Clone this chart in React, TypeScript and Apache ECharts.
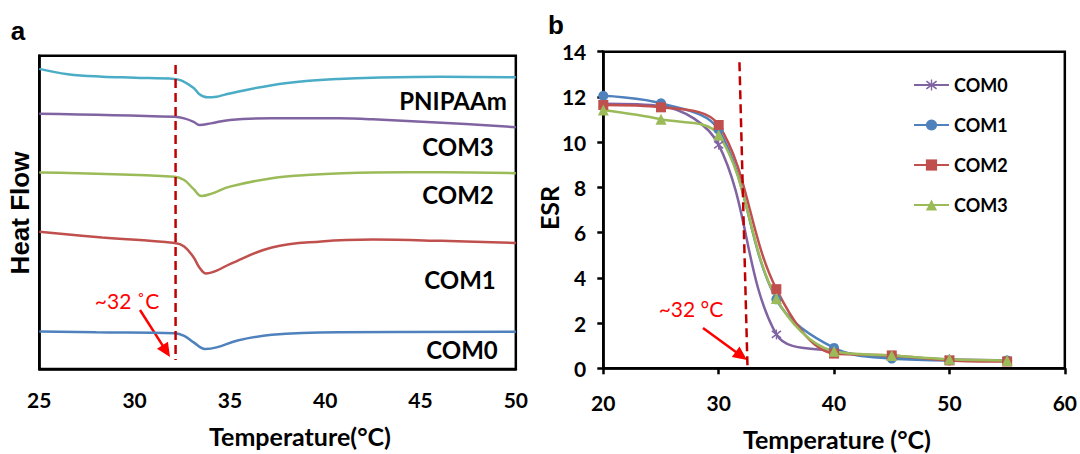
import React, { useEffect, useRef } from "react";
import * as echarts from "echarts";

// ---------- Panel a: DSC curves (Temperature °C, heat flow in offset a.u.) ----------
const dscPnipaam: number[][] = [
  [25, 95.8], [26.5, 94.1], [28.3, 93.3], [30, 93.0], [32.1, 92.6], [32.5, 92.0],
  [33.1, 89.7], [33.4, 87.7], [33.8, 86.7], [34.3, 86.9], [34.7, 87.5], [35.4, 88.5],
  [37.2, 90.6], [39, 91.9], [40.7, 92.6], [42.5, 93.0], [46.1, 93.3], [50, 93.1],
];
const dscCom3: number[][] = [
  [25, 81.5], [32.1, 80.5], [32.6, 80.0], [33.1, 78.9], [33.4, 77.9], [34, 78.4],
  [35, 79.5], [37.2, 80.0], [40.7, 80.0], [42.5, 79.7], [46.1, 78.6], [50, 77.2],
];
const dscCom2: number[][] = [
  [25, 62.7], [32.1, 61.4], [32.6, 60.3], [33.1, 57.4], [33.5, 55.2], [34, 55.9],
  [35, 58.2], [37.2, 60.9], [39, 61.9], [42.5, 62.7], [46.1, 62.8], [50, 62.5],
];
const dscCom1: number[][] = [
  [25, 43.8], [28.3, 42.0], [32.1, 40.2], [32.6, 39.1], [33.1, 35.6], [33.4, 32.4],
  [33.75, 30.5], [34.3, 31.4], [35, 33.5], [37.2, 38.8], [39.8, 40.7], [42.5, 41.3],
  [46.1, 40.9], [50, 40.2],
];
const dscCom0: number[][] = [
  [25, 12.0], [28, 11.7], [32.1, 11.4], [32.6, 10.6], [33.1, 8.5], [33.7, 6.4],
  [34.3, 6.9], [35.4, 9.1], [37.2, 10.9], [40.7, 11.7], [50, 11.9],
];
const dscNames = ["PNIPAAm", "COM3", "COM2", "COM1", "COM0"];
const dscColors = ["#4BACC6", "#8064A2", "#9BBB59", "#C0504D", "#4F81BD"];
const dscLcst: number[][] = [[32.15, 97.0], [32.15, 2.9]];

// ---------- Panel b: ESR vs temperature ----------
const esrTemps = [20, 25, 30, 35, 40, 45, 50, 55];
const esrCom0 = [11.7, 11.6, 9.88, 1.5, 0.75, 0.5, 0.4, 0.35];
const esrCom1 = [12.05, 11.72, 10.55, 3.05, 0.9, 0.43, 0.35, 0.35];
const esrCom2 = [11.64, 11.54, 10.76, 3.5, 0.65, 0.57, 0.35, 0.3];
const esrCom3 = [11.42, 11.01, 10.32, 3.09, 0.75, 0.57, 0.4, 0.35];
const esrNames = ["COM0", "COM1", "COM2", "COM3"];
const esrColors = ["#8064A2", "#4F81BD", "#C0504D", "#9BBB59"];
const esrLcst: number[][] = [[31.8, 13.53], [32.5, 0]];

const FONT = "Lato, 'Noto Sans', sans-serif";
const ARIAL = "'Liberation Sans', Arial, sans-serif";
const OX = 531; // left offset of panel b container

const asterisk =
  "path://M4.4,0H5.6V10H4.4Z M0,2.2L0.9,0.9L10,7.8L9.1,9.1Z M9.1,0.9L10,2.2L0.9,9.1L0,7.8Z";

function arrow(x1: number, y1: number, x2: number, y2: number) {
  const dx = x2 - x1, dy = y2 - y1;
  const len = Math.sqrt(dx * dx + dy * dy);
  const ux = dx / len, uy = dy / len;
  const hl = 14, hw = 6.5;
  const bx = x2 - ux * hl, by = y2 - uy * hl;
  return [
    { type: "line", shape: { x1, y1, x2: bx + ux * 2, y2: by + uy * 2 }, style: { stroke: "#FF0000", lineWidth: 2.5 } },
    {
      type: "polygon",
      shape: { points: [[x2, y2], [bx - uy * hw, by + ux * hw], [bx + uy * hw, by - ux * hw]] },
      style: { fill: "#FF0000" },
    },
  ];
}

function txt(x: number, y: number, text: string, size: number, opts: any = {}) {
  return {
    type: "text",
    x, y,
    rotation: opts.rotation || 0,
    style: {
      text,
      fontSize: size,
      fontFamily: opts.family || FONT,
      fontWeight: opts.weight || "bold",
      fill: opts.color || "#000",
      align: opts.align || "center",
      verticalAlign: "middle",
    },
  };
}

export default function App() {
  const refA = useRef<HTMLDivElement>(null);
  const refB = useRef<HTMLDivElement>(null);

  useEffect(() => {
    const a = echarts.init(refA.current!, null, { renderer: "svg" });
    const b = echarts.init(refB.current!, null, { renderer: "svg" });

    const dscData = [dscPnipaam, dscCom3, dscCom2, dscCom1, dscCom0];
    a.setOption({
      animation: false,
      backgroundColor: "#fff",
      grid: { left: 39.3, top: 55.7, width: 483.4, height: 313.3, show: true, borderColor: "#000", borderWidth: 2.5, backgroundColor: "transparent" },
      xAxis: {
        type: "value", min: 25, max: 50, interval: 5,
        axisLine: { show: true, lineStyle: { color: "#000", width: 2.5 } },
        axisTick: { show: false },
        splitLine: { show: false },
        axisLabel: { color: "#000", fontSize: 21, fontWeight: "bold", fontFamily: FONT, margin: 20 },
      },
      yAxis: {
        type: "value", min: 0, max: 100,
        axisLine: { show: true, lineStyle: { color: "#000", width: 2.5 } },
        axisTick: { show: false }, axisLabel: { show: false }, splitLine: { show: false },
      },
      series: [
        ...dscData.map((d, i) => ({
          name: dscNames[i], type: "line", data: d, smooth: 0.4, symbol: "none",
          lineStyle: { color: dscColors[i], width: 2.5 },
        })),
        {
          name: "LCST", type: "line", data: dscLcst, symbol: "none",
          lineStyle: { color: "#C00000", width: 2.5, type: [9, 5] },
        },
      ],
      graphic: [
        txt(18, 31, "a", 26, { family: ARIAL }),
        txt(20, 213, "Heat Flow", 26, { family: ARIAL, rotation: Math.PI / 2 }),
        txt(453, 100, "PNIPAAm", 24),
        txt(458, 146, "COM3", 24),
        txt(458, 194, "COM2", 24),
        txt(460, 279, "COM1", 24),
        txt(462, 349, "COM0", 24),
        txt(300, 435.5, "Temperature(°C)", 25),
        txt(127, 300, "~32 ˚C", 21, { weight: "normal", color: "#FF0000" }),
        ...arrow(140, 310, 170, 357),
      ],
    });

    const esrData = [esrCom0, esrCom1, esrCom2, esrCom3];
    const symbols = [asterisk, "circle", "rect", "triangle"];
    const sizes = [10, 10, 10, 11];
    b.setOption({
      animation: false,
      backgroundColor: "#fff",
      grid: { left: 603.3 - OX, top: 51.7, width: 466.7, height: 316.6, show: true, borderColor: "#000", borderWidth: 2.5, backgroundColor: "transparent" },
      legend: {
        data: esrNames,
        orient: "vertical",
        left: 913 - OX, top: 76, padding: 0,
        itemWidth: 35, itemHeight: 14, itemGap: 22,
        textStyle: { color: "#000", fontSize: 18, fontWeight: "bold", fontFamily: FONT, lineHeight: 18 },
      },
      xAxis: {
        type: "value", min: 20, max: 60, interval: 10,
        axisLine: { show: true, lineStyle: { color: "#000", width: 2.5 } },
        axisTick: { show: true, inside: false, length: 6, lineStyle: { color: "#000", width: 2.5 } },
        splitLine: { show: false },
        axisLabel: { color: "#000", fontSize: 21, fontWeight: "bold", fontFamily: FONT, margin: 24 },
      },
      yAxis: {
        type: "value", min: 0, max: 14, interval: 2,
        axisLine: { show: true, lineStyle: { color: "#000", width: 2.5 } },
        axisTick: { show: true, inside: false, length: 6, lineStyle: { color: "#000", width: 2.5 } },
        splitLine: { show: false },
        axisLabel: { color: "#000", fontSize: 21, fontWeight: "bold", fontFamily: FONT, margin: 17 },
      },
      series: [
        ...esrData.map((d, i) => ({
          name: esrNames[i], type: "line",
          data: d.map((v, j) => [esrTemps[j], v]),
          smooth: 0.35,
          symbol: symbols[i], symbolSize: sizes[i],
          itemStyle: { color: esrColors[i] },
          lineStyle: { color: esrColors[i], width: 2.5 },
        })),
        {
          name: "LCST", type: "line", data: esrLcst, symbol: "none",
          lineStyle: { color: "#C00000", width: 2.5, type: [9, 5] },
        },
      ],
      graphic: [
        txt(556 - OX, 25, "b", 26, { family: ARIAL }),
        txt(549 - OX, 208, "ESR", 25, { rotation: Math.PI / 2 }),
        txt(837 - OX, 438.5, "Temperature (°C)", 25),
        txt(691 - OX, 308, "~32 °C", 21, { weight: "normal", color: "#FF0000" }),
        ...arrow(703 - OX, 328, 747 - OX, 360),
      ],
    });

    return () => {
      a.dispose();
      b.dispose();
    };
  }, []);

  return (
    <div style={{ position: "absolute", left: 0, top: 0, width: 1080, height: 454, background: "#fff", overflow: "hidden" }}>
      <div ref={refA} style={{ position: "absolute", left: 0, top: 0, width: OX, height: 454 }} />
      <div ref={refB} style={{ position: "absolute", left: OX, top: 0, width: 1080 - OX, height: 454 }} />
    </div>
  );
}
